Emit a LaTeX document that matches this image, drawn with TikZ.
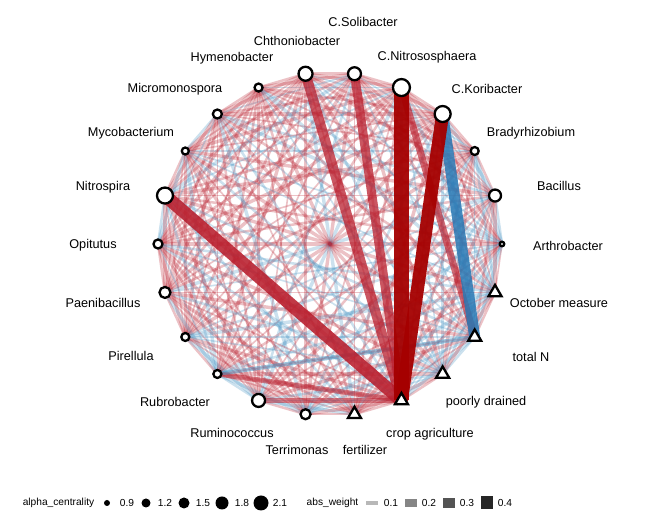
\documentclass[tikz,border=0pt]{standalone}
\usepackage{fontspec}
\setmainfont{Liberation Sans}
\usetikzlibrary{shapes.geometric}
\pgfdeclarelayer{background}
\pgfsetlayers{background,main}
\definecolor{ered}{RGB}{185,30,45}
\definecolor{edred}{RGB}{165,0,0}
\definecolor{eblue}{RGB}{67,147,195}
\definecolor{eblued}{RGB}{40,120,180}
\begin{document}
\begin{tikzpicture}[x=1pt,y=1pt,
  cnode/.style={circle,draw=black,fill=white,line width=2.3pt,inner sep=0pt},
  tnode/.style={regular polygon,regular polygon sides=3,draw=black,fill=white,line width=2.3pt,inner sep=0pt,minimum size=15pt},
  lbl/.style={font=\fontsize{12.7}{14}\selectfont,text=black,inner sep=0pt},
  leg/.style={font=\fontsize{10.2}{12}\selectfont,inner sep=0pt},
  ldot/.style={circle,fill=black,inner sep=0pt},
  lbar/.style={inner sep=0pt,minimum width=12pt},
  thinedge/.style={opacity=0.27,line cap=butt},
  bigedge/.style={line cap=butt}]
\useasboundingbox (0,0) rectangle (648,529);
\begin{scope}[shift={(330,285)}]
  \node[cnode,minimum size=4.5pt] (n0) at (0:172pt) {};
  \node[cnode,minimum size=12pt] (n1) at (16.3636:172pt) {};
  \node[cnode,minimum size=8pt] (n2) at (32.7273:172pt) {};
  \node[cnode,minimum size=16pt] (n3) at (49.0909:172pt) {};
  \node[cnode,minimum size=17pt] (n4) at (65.4545:172pt) {};
  \node[cnode,minimum size=13pt] (n5) at (81.8182:172pt) {};
  \node[cnode,minimum size=14pt] (n6) at (98.1818:172pt) {};
  \node[cnode,minimum size=8pt] (n7) at (114.5455:172pt) {};
  \node[cnode,minimum size=9pt] (n8) at (130.9091:172pt) {};
  \node[cnode,minimum size=7pt] (n9) at (147.2727:172pt) {};
  \node[cnode,minimum size=16pt] (n10) at (163.6364:172pt) {};
  \node[cnode,minimum size=9pt] (n11) at (180:172pt) {};
  \node[cnode,minimum size=11pt] (n12) at (196.3636:172pt) {};
  \node[cnode,minimum size=8pt] (n13) at (212.7273:172pt) {};
  \node[cnode,minimum size=8pt] (n14) at (229.0909:172pt) {};
  \node[cnode,minimum size=13pt] (n15) at (245.4545:172pt) {};
  \node[cnode,minimum size=10pt] (n16) at (261.8182:172pt) {};
  \node[tnode] (n17) at (278.1818:172pt) {};
  \node[tnode] (n18) at (294.5455:172pt) {};
  \node[tnode] (n19) at (310.9091:172pt) {};
  \node[tnode] (n20) at (327.2727:172pt) {};
  \node[tnode] (n21) at (343.6364:172pt) {};
\end{scope}

\begin{pgfonlayer}{background}
  \fill[white] (0,0) rectangle (648,529);
  \foreach \i in {0,...,20}{
    \pgfmathtruncatemacro\s{\i+1}
    \foreach \j in {\s,...,21}{
      \pgfmathtruncatemacro\h{mod(\i*37+\j*17+\i*\j*5,100)}
      \pgfmathtruncatemacro\t{(\j>18 || \i==0) ? 55 : 24}
      \pgfmathsetmacro\w{1.6+0.9*mod(\i*11+\j*7,3)}
      \ifnum\h<\t\relax\def\col{eblue}\else\def\col{ered}\fi
      \draw[thinedge,draw=\col,line width=\w pt] (n\i.center) -- (n\j.center);
    }
  }
  \draw[bigedge,draw=ered,opacity=0.55,line width=5pt] (n14.center) -- (n18.center);
  \draw[bigedge,draw=ered,opacity=0.55,line width=5pt] (n15.center) -- (n18.center);
  \draw[bigedge,draw=eblue,opacity=0.5,line width=4pt] (n14.center) -- (n20.center);
  \draw[bigedge,draw=ered,opacity=0.65,line width=7pt] (n4.center) -- (n20.center);
  \draw[bigedge,draw=ered,opacity=0.75,line width=9pt] (n5.center) -- (n18.center);
  \draw[bigedge,draw=ered,opacity=0.75,line width=10pt] (n6.center) -- (n18.center);
  \draw[bigedge,draw=eblued,opacity=0.85,line width=11pt] (n3.center) -- (n20.center);
  \draw[bigedge,draw=ered,opacity=0.88,line width=13pt] (n10.center) -- (n18.center);
  \draw[bigedge,draw=edred,opacity=0.95,line width=13pt] (n3.center) -- (n18.center);
  \draw[bigedge,draw=edred,opacity=0.95,line width=15pt] (n4.center) -- (n18.center);
\end{pgfonlayer}

% node labels
\node[lbl] (l0) at (568,283) {Arthrobacter};
\node[lbl] (l1) at (559,343) {Bacillus};
\node[lbl] (l2) at (531,396) {Bradyrhizobium};
\node[lbl] (l3) at (487,440) {C.Koribacter};
\node[lbl] (l4) at (427,472) {C.Nitrososphaera};
\node[lbl] (l5) at (363,507) {C.Solibacter};
\node[lbl] (l6) at (297,488) {Chthoniobacter};
\node[lbl] (l7) at (232,471) {Hymenobacter};
\node[lbl] (l8) at (175,440) {Micromonospora};
\node[lbl] (l9) at (131,396) {Mycobacterium};
\node[lbl] (l10) at (103,342) {Nitrospira};
\node[lbl] (l11) at (93,284) {Opitutus};
\node[lbl] (l12) at (103,226) {Paenibacillus};
\node[lbl] (l13) at (131,173) {Pirellula};
\node[lbl] (l14) at (175,127) {Rubrobacter};
\node[lbl] (l15) at (232,96) {Ruminococcus};
\node[lbl] (l16) at (297,79) {Terrimonas};
\node[lbl] (l17) at (365,79) {fertilizer};
\node[lbl] (l18) at (430,95) {crop agriculture};
\node[lbl] (l19) at (486,127) {poorly drained};
\node[lbl] (l20) at (531,172) {total N};
\node[lbl] (l21) at (559,226) {October measure};

% legend
\node[leg] (la) at (58.5,26) {alpha\_centrality};
\node[ldot,minimum size=6pt] (d1) at (107,26) {};
\node[leg] (t1) at (127,26) {0.9};
\node[ldot,minimum size=9pt] (d2) at (146,26) {};
\node[leg] (t2) at (165,26) {1.2};
\node[ldot,minimum size=11pt] (d3) at (184,26) {};
\node[leg] (t3) at (203,26) {1.5};
\node[ldot,minimum size=13pt] (d4) at (222,26) {};
\node[leg] (t4) at (242,26) {1.8};
\node[ldot,minimum size=15pt] (d5) at (261,26) {};
\node[leg] (t5) at (280,26) {2.1};
\node[leg] (lb) at (332.5,26) {abs\_weight};
\node[lbar,fill=black!28,minimum height=4.5pt] (b1) at (372,26) {};
\node[leg] (u1) at (391,26) {0.1};
\node[lbar,fill=black!48,minimum height=7.5pt] (b2) at (410.5,26) {};
\node[leg] (u2) at (429,26) {0.2};
\node[lbar,fill=black!67,minimum height=10.5pt] (b3) at (449,26) {};
\node[leg] (u3) at (467,26) {0.3};
\node[lbar,fill=black!85,minimum height=13pt] (b4) at (487,26) {};
\node[leg] (u4) at (505,26) {0.4};
\end{tikzpicture}
\end{document}
